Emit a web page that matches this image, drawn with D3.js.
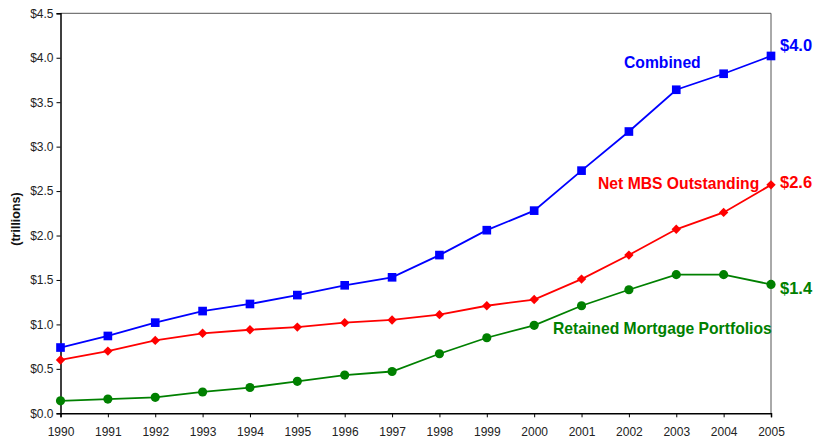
<!DOCTYPE html>
<html>
<head>
<meta charset="utf-8">
<script src="https://cdn.jsdelivr.net/npm/d3@7"></script>
<style>
  html, body { margin: 0; padding: 0; background: #fff; }
  svg { display: block; font-family: "Liberation Sans", Arial, sans-serif; }
</style>
</head>
<body>
<svg id="chart" width="815" height="441"></svg>
<script>
// GSE mortgage holdings, trillions of dollars
const years = [1990, 1991, 1992, 1993, 1994, 1995, 1996, 1997, 1998, 1999, 2000, 2001, 2002, 2003, 2004, 2005];
const combined = [0.74, 0.87, 1.02, 1.15, 1.23, 1.33, 1.44, 1.53, 1.78, 2.06, 2.28, 2.73, 3.17, 3.64, 3.82, 4.02];
const netMBS = [0.60, 0.70, 0.82, 0.90, 0.94, 0.97, 1.02, 1.05, 1.11, 1.21, 1.28, 1.51, 1.78, 2.07, 2.26, 2.57];
const retained = [0.14, 0.16, 0.18, 0.24, 0.29, 0.36, 0.43, 0.47, 0.67, 0.85, 0.99, 1.21, 1.39, 1.56, 1.56, 1.45];
const yTicks = [0, 0.5, 1.0, 1.5, 2.0, 2.5, 3.0, 3.5, 4.0, 4.5];

const svg = d3.select("#chart");
const plotLeft = 60.5, plotRight = 771, plotTop = 13.3, plotBottom = 413.3;
const fontFam = "Liberation Sans, Arial, sans-serif";

const x = d3.scaleLinear().domain([1990, 2005]).range([plotLeft, plotRight]);
const y = d3.scaleLinear().domain([0, 4.5]).range([plotBottom, plotTop]);

// plot frame (top and right edges)
svg.append("path")
  .attr("d", `M${plotLeft},${y(4.5)}H${plotRight}V${plotBottom}`)
  .attr("fill", "none").attr("stroke", "#555").attr("stroke-width", 1);

// y axis
const yAxis = svg.append("g")
  .attr("transform", `translate(${plotLeft},0)`)
  .call(d3.axisLeft(y).tickValues(yTicks).tickSize(4).tickPadding(3)
    .tickFormat(d => "$" + d3.format(".1f")(d)));
yAxis.select(".domain").attr("stroke", "#000").attr("stroke-width", 1.5);
yAxis.selectAll(".tick line").attr("stroke", "#000");
yAxis.selectAll("text").attr("font-size", 12).attr("fill", "#222")
  .attr("font-family", fontFam);

// x axis
const xAxis = svg.append("g")
  .attr("transform", `translate(0,${plotBottom})`)
  .call(d3.axisBottom(x).tickValues(years).tickSize(4).tickPadding(10)
    .tickFormat(d3.format("d")));
xAxis.select(".domain").attr("stroke", "#000").attr("stroke-width", 1.5);
xAxis.selectAll(".tick line").attr("stroke", "#000");
xAxis.selectAll("text").attr("font-size", 12).attr("fill", "#222")
  .attr("font-family", fontFam);

// y-axis title
svg.append("text")
  .attr("transform", `translate(20,219) rotate(-90)`)
  .attr("text-anchor", "middle")
  .attr("font-size", 12.5).attr("font-weight", "bold").attr("fill", "#111")
  .text("(trillions)");

const line = d3.line().x((d, i) => x(years[i])).y(d => y(d));

const series = [
  { name: "Combined", values: combined, color: "#0000ff", shape: d3.symbolSquare, size: 75, rotate: 0 },
  { name: "Net MBS Outstanding", values: netMBS, color: "#ff0000", shape: d3.symbolSquare, size: 44, rotate: 45 },
  { name: "Retained Mortgage Portfolios", values: retained, color: "#008000", shape: d3.symbolCircle, size: 66, rotate: 0 }
];

// draw lines bottom-up so Combined sits on top
series.slice().reverse().forEach(s => {
  svg.append("path")
    .datum(s.values)
    .attr("fill", "none")
    .attr("stroke", s.color)
    .attr("stroke-width", 1.8)
    .attr("d", line);
  svg.append("g").selectAll("path")
    .data(s.values)
    .join("path")
    .attr("transform", (d, i) => `translate(${x(years[i])},${y(d)}) rotate(${s.rotate})`)
    .attr("d", d3.symbol().type(s.shape).size(s.size))
    .attr("fill", s.color);
});

// series labels
const labels = [
  { text: "Combined", color: "#0000ff", x: 624, y: 68 },
  { text: "Net MBS Outstanding", color: "#ff0000", x: 598, y: 189 },
  { text: "Retained Mortgage Portfolios", color: "#008000", x: 553, y: 334 }
];
svg.append("g").selectAll("text")
  .data(labels)
  .join("text")
  .attr("x", d => d.x).attr("y", d => d.y)
  .attr("fill", d => d.color)
  .attr("font-size", 15.7).attr("font-weight", "bold")
  .text(d => d.text);

// end-value labels
const endLabels = [
  { v: combined[combined.length - 1], color: "#0000ff", y: 51 },
  { v: netMBS[netMBS.length - 1], color: "#ff0000", y: 188 },
  { v: retained[retained.length - 1], color: "#008000", y: 294 }
];
svg.append("g").selectAll("text")
  .data(endLabels)
  .join("text")
  .attr("x", plotRight + 9)
  .attr("y", d => d.y)
  .attr("fill", d => d.color)
  .attr("font-size", 16.5).attr("font-weight", "bold")
  .text(d => "$" + d3.format(".1f")(d.v));
</script>
</body>
</html>
